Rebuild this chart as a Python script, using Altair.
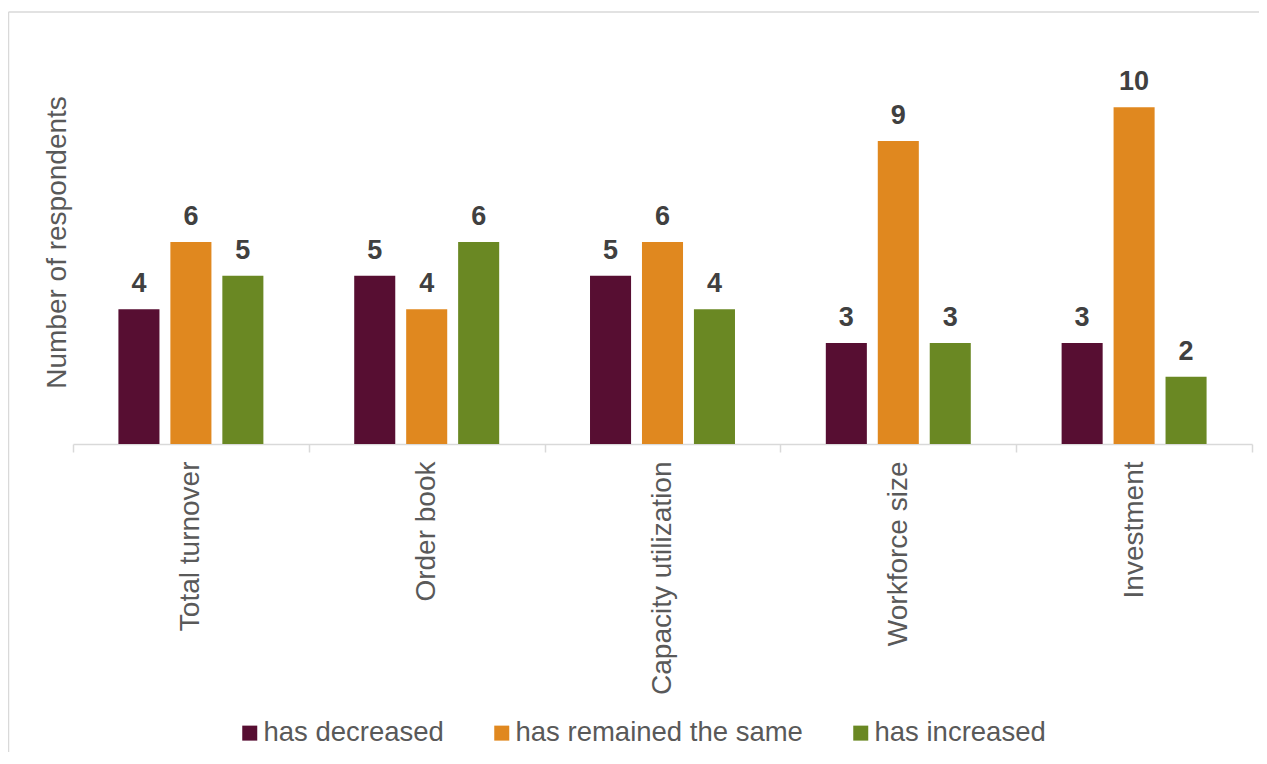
import altair as alt
import pandas as pd

categories = ["Total turnover", "Order book", "Capacity utilization", "Workforce size", "Investment"]
series = ["has decreased", "has remained the same", "has increased"]
decreased = [4, 5, 5, 3, 3]
remained = [6, 4, 6, 9, 10]
increased = [5, 6, 4, 3, 2]
colors = ["#570E32", "#E0881F", "#6A8823"]

rows = []
for s, vals in zip(series, [decreased, remained, increased]):
    for c, v in zip(categories, vals):
        rows.append({"category": c, "series": s, "value": v})
df = pd.DataFrame(rows)

FONT = "Liberation Sans, Arial, sans-serif"
GRAY = "#595959"
LINE = "#d9d9d9"

base = alt.Chart(df).encode(
    x=alt.X(
        "category:N",
        sort=categories,
        scale=alt.Scale(paddingInner=0, paddingOuter=0),
        axis=alt.Axis(
            title=None,
            labelAngle=-90,
            labelFontSize=28,
            labelColor=GRAY,
            labelFont=FONT,
            labelLimit=400,
            labelPadding=9,
            tickBand="extent",
            tickSize=8,
            tickColor=LINE,
            tickWidth=1.5,
            domainColor=LINE,
            domainWidth=1.5,
        ),
    ),
    xOffset=alt.XOffset(
        "series:N",
        sort=series,
        scale=alt.Scale(domain=series, paddingInner=0.21, paddingOuter=0.874),
    ),
    y=alt.Y(
        "value:Q",
        scale=alt.Scale(domain=[0, 12], nice=False),
        axis=alt.Axis(
            title="Number of respondents",
            labels=False,
            ticks=False,
            domain=False,
            grid=False,
            titleFontSize=28,
            titleFont=FONT,
            titleColor=GRAY,
            titleFontWeight="normal",
            titleX=-16,
            titleY=202,
            titleAngle=270,
            titleAlign="center",
            titleBaseline="middle",
        ),
    ),
)

bars = base.mark_bar().encode(
    color=alt.Color(
        "series:N",
        sort=series,
        scale=alt.Scale(domain=series, range=colors),
        legend=alt.Legend(
            title=None,
            orient="none",
            legendX=163,
            legendY=679,
            direction="horizontal",
            symbolType="square",
            symbolSize=225,
            symbolStrokeWidth=0,
            symbolOpacity=1,
            labelFontSize=27.5,
            labelFont=FONT,
            labelColor=GRAY,
            labelOffset=0,
            labelLimit=500,
            columnPadding=44,
            padding=0,
        ),
    )
)

labels = base.mark_text(
    dy=-17, baseline="alphabetic", fontSize=27, fontWeight="bold", color="#404040", font=FONT
).encode(text="value:Q")

frame = pd.DataFrame({"k": [0]})
vline = alt.Chart(frame).mark_rule(color=LINE, strokeWidth=1.5).encode(
    x=alt.value(-64.5), y=alt.value(-28), y2=alt.value(716)
)
hline = alt.Chart(frame).mark_rule(color=LINE, strokeWidth=1.5).encode(
    x=alt.value(-64.5), x2=alt.value(1186), y=alt.value(-28)
)

chart = (
    alt.layer(vline, hline, bars, labels)
    .properties(
        width=1179,
        height=404,
        autosize=alt.AutoSizeParams(type="none"),
        padding={"left": 65, "top": 32, "right": 7, "bottom": 308},
    )
    .configure_view(strokeWidth=0)
)

chart.save("out.html", embed_options={"renderer": "svg", "actions": False})
